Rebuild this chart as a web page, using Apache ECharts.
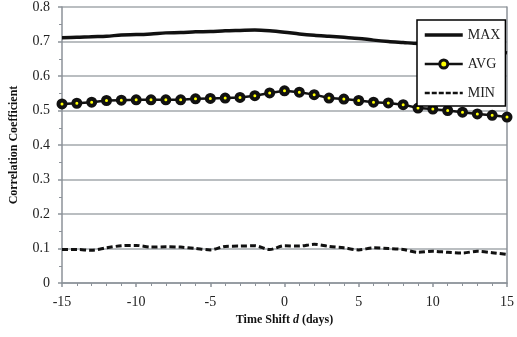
<!DOCTYPE html>
<html><head><meta charset="utf-8">
<script src="https://cdn.jsdelivr.net/npm/echarts@6/dist/echarts.min.js"></script>
<style>html,body{margin:0;padding:0;background:#fff}#c{width:517px;height:337px}</style>
</head><body><div id="c"></div>
<script>
var days = [-15,-14,-13,-12,-11,-10,-9,-8,-7,-6,-5,-4,-3,-2,-1,0,1,2,3,4,5,6,7,8,9,10,11,12,13,14,15];
var maxVals = [0.711,0.712,0.714,0.715,0.719,0.720,0.722,0.725,0.726,0.728,0.729,0.731,0.732,0.733,0.731,0.727,0.722,0.718,0.715,0.712,0.709,0.704,0.700,0.697,0.694,0.692,0.688,0.684,0.680,0.673,0.667];
var avgVals = [0.519,0.521,0.524,0.529,0.530,0.531,0.531,0.531,0.531,0.534,0.535,0.536,0.538,0.543,0.551,0.557,0.553,0.546,0.536,0.533,0.529,0.524,0.522,0.517,0.507,0.504,0.500,0.495,0.490,0.486,0.481];
var minVals = [0.097,0.097,0.095,0.102,0.108,0.109,0.104,0.105,0.104,0.100,0.096,0.106,0.107,0.108,0.097,0.108,0.107,0.112,0.106,0.102,0.096,0.102,0.100,0.097,0.089,0.092,0.089,0.087,0.092,0.088,0.083];
var seriesNames = ['MAX','AVG','MIN'];
var xTitle = 'Time Shift {i|d} (days)';
var yTitle = 'Correlation Coefficient';

function pairs(v){ return days.map(function(d,i){ return [d, v[i]]; }); }
var font = '"Liberation Serif", "Times New Roman", serif';
var hidden = {opacity:0, color:'transparent', borderWidth:0};
var chart = echarts.init(document.getElementById('c'), null, {renderer:'canvas'});
chart.setOption({
  animation:false,
  textStyle:{fontFamily:font},
  grid:{left:57,right:5,top:5,bottom:54,containLabel:false},
  legend:{
    orient:'vertical', left:417, top:20,
    data:[
      {name:seriesNames[0], itemStyle:hidden, lineStyle:{color:'#111', width:3.5}},
      {name:seriesNames[1], itemStyle:{color:'#ffff00', borderColor:'#111', borderWidth:3}, lineStyle:{color:'#111', width:2.5}},
      {name:seriesNames[2], itemStyle:hidden, lineStyle:{color:'#111', width:2.5, type:[5,2]}}
    ],
    itemWidth:38, itemHeight:10, itemGap:15, itemTextGap:3,
    padding:[8,5,6,6],
    backgroundColor:'#fff', borderColor:'#000', borderWidth:1.5, borderRadius:0,
    textStyle:{fontFamily:font, fontSize:14, color:'#222'},
    z:10
  },
  xAxis:{
    type:'value', min:-15, max:15, interval:5,
    name:xTitle, nameLocation:'middle', nameGap:31,
    nameTextStyle:{fontFamily:font, fontSize:12, fontWeight:'bold', color:'#111',
      rich:{i:{fontFamily:font, fontSize:12, fontWeight:'bold', fontStyle:'italic', color:'#111'}}},
    axisLine:{show:true, onZero:false, lineStyle:{color:'#8c9299', width:1.5}},
    axisTick:{show:true, length:4, lineStyle:{color:'#8c9299', width:1.5}},
    minorTick:{show:true, splitNumber:5, length:3, lineStyle:{color:'#8c9299', width:1}},
    axisLabel:{fontFamily:font, fontSize:14, color:'#222', margin:12},
    splitLine:{show:false}
  },
  yAxis:[{
    type:'value', min:0, max:0.8, interval:0.1, position:'left',
    name:yTitle, nameLocation:'middle', nameGap:42, nameRotate:90,
    nameTextStyle:{fontFamily:font, fontSize:12, fontWeight:'bold', color:'#111'},
    axisLine:{show:true, onZero:false, lineStyle:{color:'#8c9299', width:1.5}},
    axisTick:{show:true, length:4, lineStyle:{color:'#8c9299', width:1.5}},
    minorTick:{show:true, splitNumber:2, length:3, lineStyle:{color:'#8c9299', width:1}},
    axisLabel:{fontFamily:font, fontSize:14, color:'#222', margin:12},
    splitLine:{show:true, lineStyle:{color:'#a3a8ad', width:1.5}}
  },{
    type:'value', min:0, max:0.8, interval:0.1, position:'right',
    axisLine:{show:true, onZero:false, lineStyle:{color:'#8c9299', width:1.5}},
    axisTick:{show:false}, axisLabel:{show:false}, splitLine:{show:false}
  }],
  series:[
    {name:'MAX', type:'line', data:pairs(maxVals), smooth:0.3, showSymbol:false, symbol:'none',
      lineStyle:{color:'#111', width:3.5}, itemStyle:{color:'#111'}, z:3},
    {name:'AVG', type:'line', data:pairs(avgVals), smooth:false, showSymbol:true, symbol:'circle', symbolSize:7,
      lineStyle:{color:'#111', width:2.5}, itemStyle:{color:'#ffff00', borderColor:'#111', borderWidth:4}, z:3},
    {name:'MIN', type:'line', data:pairs(minVals), smooth:0.3, showSymbol:false, symbol:'none',
      lineStyle:{color:'#111', width:3, type:[6,3]}, itemStyle:{color:'#111'}, z:3}
  ]
});
</script></body></html>
